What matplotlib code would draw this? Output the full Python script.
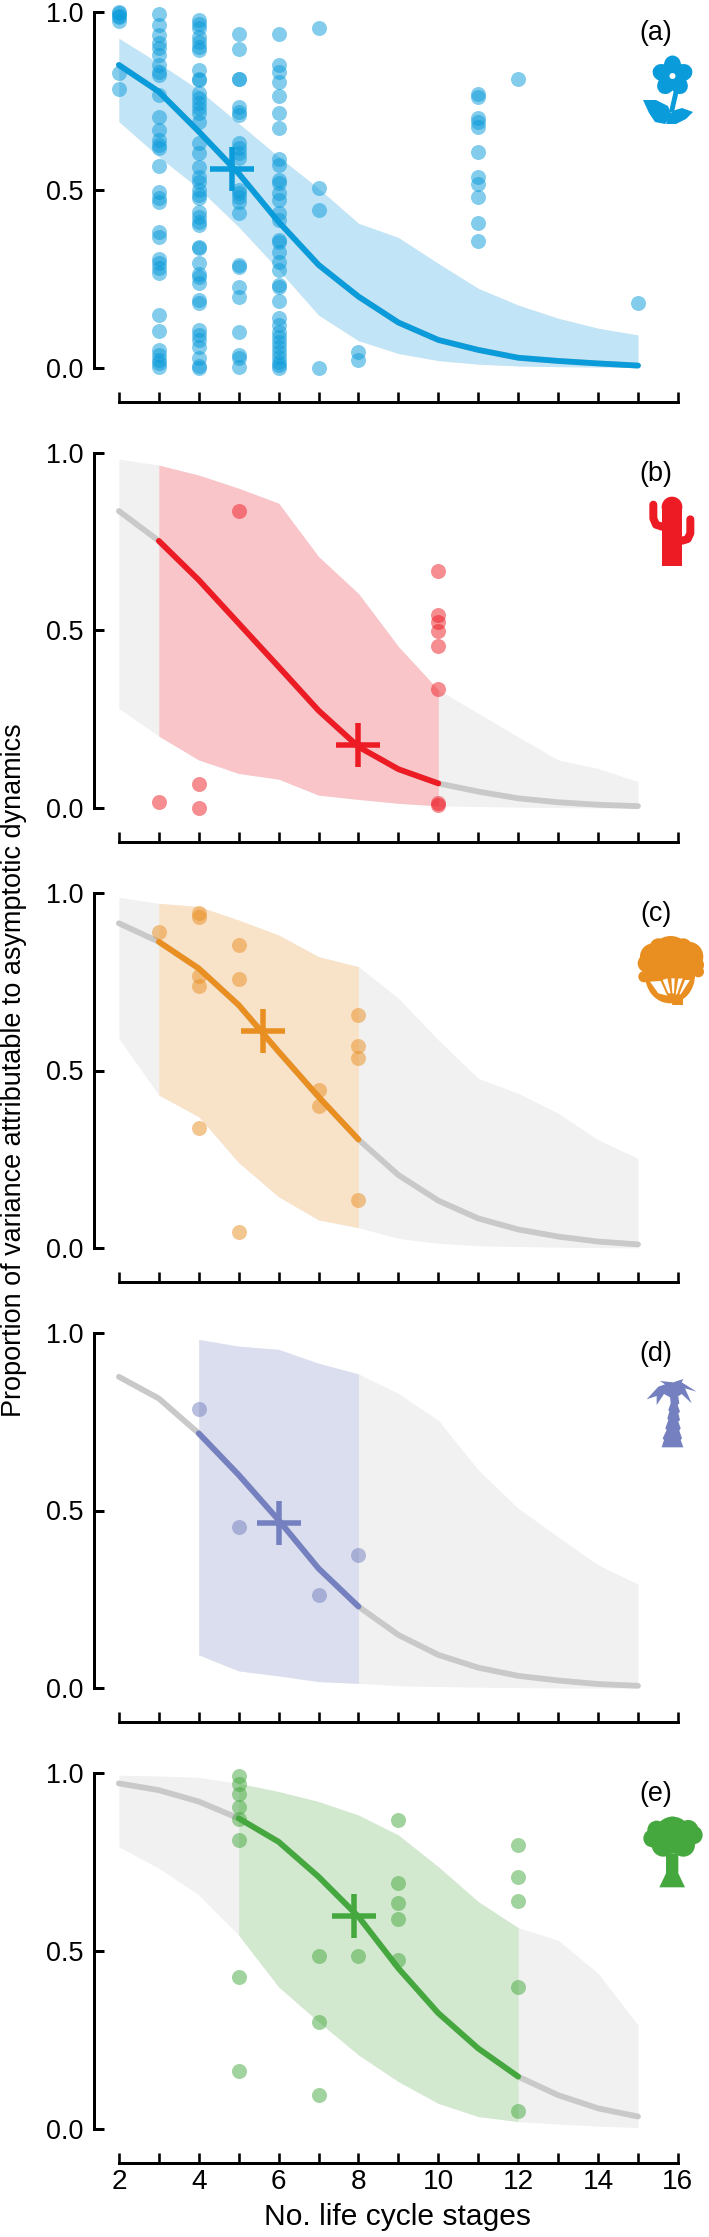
import numpy as np
import matplotlib
matplotlib.use("Agg")
import matplotlib.pyplot as plt
from matplotlib.patches import Circle, Ellipse, Polygon, Rectangle

plt.rcParams["font.family"] = ["Liberation Sans", "DejaVu Sans"]

stages = np.arange(2, 16)

# (a) flower
a_line = [.851, .776, .664, .546, .41, .289, .2, .127, .078, .05, .028, .019, .012, .006]
a_up = [.926, .856, .781, .687, .593, .504, .406, .366, .293, .223, .176, .139, .111, .092]
a_lo = [.692, .593, .504, .396, .275, .148, .076, .04, .02, .01, .005, .003, .002, .001]
a_pts = {
    2: [1.0, .996, .99, .985, .975, .828, .783],
    3: [.994, .963, .935, .912, .898, .879, .851, .832, .823, .768, .704, .668, .64, .626, .617,
        .568, .493, .476, .467, .382, .368, .307, .293, .279, .265, .148, .103, .05, .036, .023,
        .012, .003],
    4: [.977, .966, .954, .931, .917, .902, .893, .837, .813, .809, .771, .757, .743, .729, .715,
        .692, .631, .603, .565, .537, .523, .5, .485, .476, .439, .425, .41, .401, .34, .336,
        .293, .263, .256, .237, .19, .183, .106, .092, .078, .059, .026, .005, 0.0],
    5: [.937, .896, .813, .811, .734, .72, .71, .631, .617, .603, .589, .5, .49, .481, .467, .434,
        .289, .284, .228, .2, .101, .036, .026, .001],
    6: [.937, .851, .832, .804, .764, .715, .673, .586, .57, .528, .52, .49, .471, .434, .415,
        .359, .352, .326, .298, .275, .232, .228, .187, .139, .12, .101, .087, .073, .059, .045,
        .031, .017, .007, 0.0],
    7: [.954, .506, .443, 0.0],
    8: [.045, .022],
    11: [.769, .762, .701, .692, .678, .607, .537, .516, .481, .406, .357],
    12: [.813],
    15: [.181],
}

# (b) cactus
b_line = [.836, .752, .642, .52, .398, .275, .173, .11, .07, .047, .028, .017, .01, .006]
b_up = [.982, .965, .937, .9, .858, .708, .604, .455, .333, .267, .201, .136, .112, .075]
b_lo = [.281, .203, .136, .098, .082, .037, .025, .014, .007, .005, .003, .002, .001, .001]
b_pts = {
    3: [.019],
    4: [.067, .002],
    5: [.836],
    10: [.668, .544, .525, .499, .456, .335, .016, .009],
}

# (c) shrub
c_line = [.914, .862, .787, .684, .553, .426, .306, .206, .134, .084, .053, .033, .019, .011]
c_up = [.987, .97, .961, .923, .881, .82, .792, .703, .586, .478, .436, .38, .305, .253]
c_lo = [.59, .431, .37, .241, .145, .08, .058, .028, .014, .007, .005, .003, .002, .001]
c_pts = {
    3: [.89],
    4: [.942, .931, .766, .738, .337],
    5: [.853, .757, .047],
    7: [.445, .4],
    8: [.656, .57, .536, .136],
}

# (d) palm, no grey band before 4 stages
d_line = [.876, .815, .717, .6, .473, .337, .23, .15, .094, .058, .035, .022, .012, .007]
d_up = [.981, .962, .953, .914, .884, .829, .754, .614, .506, .426, .347, .293]
d_lo = [.094, .049, .035, .019, .014, .007, .005, .003, .002, .001, .001, .001]
d_pts = {
    4: [.785],
    5: [.455],
    7: [.263],
    8: [.374],
}

# (e) tree
e_line = [.97, .951, .919, .872, .806, .708, .596, .451, .325, .226, .147, .095, .058, .035]
e_up = [.993, .991, .987, .97, .947, .919, .881, .825, .736, .638, .565, .53, .437, .292]
e_lo = [.792, .732, .657, .544, .399, .301, .208, .133, .072, .035, .021, .014, .008, .004]
e_pts = {
    5: [.992, .968, .939, .903, .869, .811, .428, .164],
    7: [.486, .299, .095],
    8: [.486],
    9: [.867, .691, .633, .588, .474],
    12: [.798, .706, .641, .398, .051],
}

panels = [
    ("(a)", "#0a9bdb", "#c1e5f6", a_line, a_up, a_lo, a_pts, (2, 15), (4.84, .56)),
    ("(b)", "#ed1c24", "#f9c5c9", b_line, b_up, b_lo, b_pts, (3, 10), (8.0, .177)),
    ("(c)", "#e98f21", "#f9e3c8", c_line, c_up, c_lo, c_pts, (3, 8), (5.6, .612)),
    ("(d)", "#7480bf", "#dadeef", d_line, d_up, d_lo, d_pts, (4, 8), (6.0, .464)),
    ("(e)", "#45a83f", "#d2e9cf", e_line, e_up, e_lo, e_pts, (5, 12), (7.9, .599)),
]

W, H = 709, 2237
top_px = [12.0, 452.7, 892.7, 1332.7, 1772.7]
bottom_px = [367.7, 808.3, 1248.3, 1688.3, 2129.0]
left_px, right_px = 118.9, 677.9
GREY_FILL = "#f1f1f1"
GREY_LINE = "#c9c9c9"

fig = plt.figure(figsize=(W / 72, H / 72), dpi=72, facecolor="white")

for i, (label, col, fill, line, up, lo, pts, rng, star) in enumerate(panels):
    ax = fig.add_axes([left_px / W, 1 - bottom_px[i] / H,
                       (right_px - left_px) / W, (bottom_px[i] - top_px[i]) / H])
    ax.set_xlim(2, 16)
    ax.set_ylim(0, 1)

    line = np.array(line)
    up = np.array(up)
    lo = np.array(lo)
    # band arrays of (d) start at 4 stages
    band_x = stages[-len(up):]
    ax.fill_between(band_x, lo, up, color=GREY_FILL, lw=0, zorder=1)
    m = (band_x >= rng[0]) & (band_x <= rng[1])
    ax.fill_between(band_x[m], lo[m], up[m], color=fill, lw=0, zorder=2)

    ax.plot(stages, line, color=GREY_LINE, lw=5.8, solid_capstyle="round", zorder=3, clip_on=False)
    m = (stages >= rng[0]) & (stages <= rng[1])
    ax.plot(stages[m], line[m], color=col, lw=5.8, solid_capstyle="round", zorder=4, clip_on=False)

    for x, ys in pts.items():
        ax.scatter([x] * len(ys), ys, s=225, color=col, alpha=0.5, lw=0, zorder=5, clip_on=False)

    ax.plot([star[0]], [star[1]], marker="+", ms=44, mew=5.5, color=col, zorder=6, clip_on=False)

    ax.spines["top"].set_visible(False)
    ax.spines["right"].set_visible(False)
    ax.spines["left"].set_position(("outward", 24.6))
    ax.spines["bottom"].set_position(("outward", 34))
    ax.spines["left"].set_linewidth(3)
    ax.spines["bottom"].set_linewidth(3)
    ax.spines["left"].set_bounds(0, 1)
    ax.spines["bottom"].set_bounds(2, 16)
    ax.patch.set_alpha(0)

    ax.set_yticks([0, .5, 1])
    ax.set_yticklabels(["0.0", "0.5", "1.0"], fontsize=27)
    ax.set_xticks(range(2, 17))
    if i == 4:
        ax.set_xticklabels([str(v) if v % 2 == 0 else "" for v in range(2, 17)], fontsize=28)
    else:
        ax.set_xticklabels([])
    ax.tick_params(axis="y", direction="in", length=10, width=3, pad=11)
    ax.tick_params(axis="x", direction="in", length=10, width=2.6, pad=6)

    fig.text(656 / W, 1 - (top_px[i] + 21) / H, label, fontsize=27, ha="center", va="center")

fig.text(14 / W, 1 - 1070 / H, "Proportion of variance attributable to asymptotic dynamics",
         rotation=90, fontsize=27, ha="center", va="center")
fig.text(397 / W, 1 - 2217 / H, "No. life cycle stages", fontsize=30, ha="center", va="center")

# icons, drawn in pixel coordinates of the figure
ov = fig.add_axes([0, 0, 1, 1])
ov.set_xlim(0, W)
ov.set_ylim(H, 0)
ov.axis("off")
ov.patch.set_alpha(0)


def outline(pts, origin, c, z=2):
    xy = [(origin[0] + x / 3, origin[1] + y / 3) for x, y in pts]
    ov.add_patch(Polygon(xy, color=c, lw=0, zorder=z))


def blobs(items, origin, c, z=2):
    for x, y, r in items:
        ov.add_patch(Circle((origin[0] + x / 3, origin[1] + y / 3), r / 3, color=c, lw=0, zorder=z))


def flower(c):
    cx, cy = 672.5, 76
    for ang in np.arange(0, 360, 72):
        px = cx + 11 * np.cos(np.radians(ang - 90))
        py = cy + 11 * np.sin(np.radians(ang - 90))
        ov.add_patch(Ellipse((px, py), 17, 19, angle=ang, color=c, lw=0))
    ov.add_patch(Circle((cx, cy), 3, color="white", lw=0, zorder=3))
    ov.add_patch(Polygon([(674, 90), (679, 90), (674, 112), (669, 112)], color=c, lw=0))
    ov.add_patch(Polygon([(643, 100), (656, 100), (668, 106), (672, 116), (665, 124), (655, 122),
                          (649, 113)], color=c, lw=0))
    ov.add_patch(Polygon([(672, 111), (682, 108), (693, 112), (686, 119), (676, 124), (666, 124)],
                         color=c, lw=0))


def cactus(c):
    o = (640, 490)
    ov.add_patch(Rectangle((o[0] + 65 / 3, o[1] + 50 / 3), 62 / 3, 178 / 3, color=c, lw=0))
    blobs([(96, 51, 31)], o, c)
    for arm in ([(40, 44), (40, 85), (48, 104), (66, 110)], [(151, 88), (151, 130), (143, 147), (127, 152)]):
        ov.plot([o[0] + x / 3 for x, y in arm], [o[1] + y / 3 for x, y in arm], color=c, lw=8,
                solid_capstyle="round", solid_joinstyle="round")


def shrub(c):
    o = (630, 925)
    # bowl of branches under the crown, slits cut out in white
    ov.add_patch(Ellipse((o[0] + 120 / 3, o[1] + 150 / 3), 150 / 3, 170 / 3, color=c, lw=0, zorder=1))
    outline([(128, 215), (160, 215), (160, 240), (125, 240)], o, c, z=1)
    for slit in ([(60, 170), (92, 168), (112, 212), (85, 205)],
                 [(98, 165), (112, 160), (122, 205), (115, 205)],
                 [(124, 160), (134, 160), (132, 205), (127, 205)],
                 [(145, 160), (158, 160), (141, 208), (137, 208)],
                 [(165, 165), (180, 165), (152, 208), (148, 208)]):
        outline(slit, o, "white", z=1.5)
    blobs([(122, 95, 62), (70, 95, 40), (175, 95, 45), (122, 65, 30), (85, 65, 25), (160, 65, 25),
          (50, 115, 27), (195, 120, 27), (42, 155, 17), (205, 140, 17), (100, 125, 35), (150, 125, 35)],
          o, c)


def palm(c):
    o = (640, 1370)
    outline([(115, 80), (118, 100), (113, 105), (120, 125), (115, 130), (120, 150), (115, 155), (122, 175),
             (118, 182), (126, 205), (122, 210), (130, 232), (65, 232), (72, 210), (68, 205), (80, 180),
             (76, 175), (85, 150), (82, 145), (88, 125), (85, 120), (92, 100), (90, 80)], o, c)
    outline([(60, 33), (100, 37), (130, 27), (125, 37), (170, 65), (135, 55), (155, 100), (125, 72),
             (110, 82), (90, 82), (72, 72), (50, 105), (50, 78), (20, 88), (55, 50), (75, 43)], o, c)


def tree(c):
    o = (640, 1810)
    blobs([(98, 75, 55), (50, 60, 28), (97, 50, 30), (145, 60, 30), (160, 75, 28), (37, 85, 27),
           (70, 105, 35), (130, 105, 35)], o, c)
    outline([(78, 130), (115, 130), (115, 190), (135, 232), (58, 232), (78, 190)], o, c)


flower(panels[0][1])
cactus(panels[1][1])
shrub(panels[2][1])
palm(panels[3][1])
tree(panels[4][1])

ov.set_xlim(0, W)
ov.set_ylim(H, 0)

fig.savefig("out.png", dpi=72)
